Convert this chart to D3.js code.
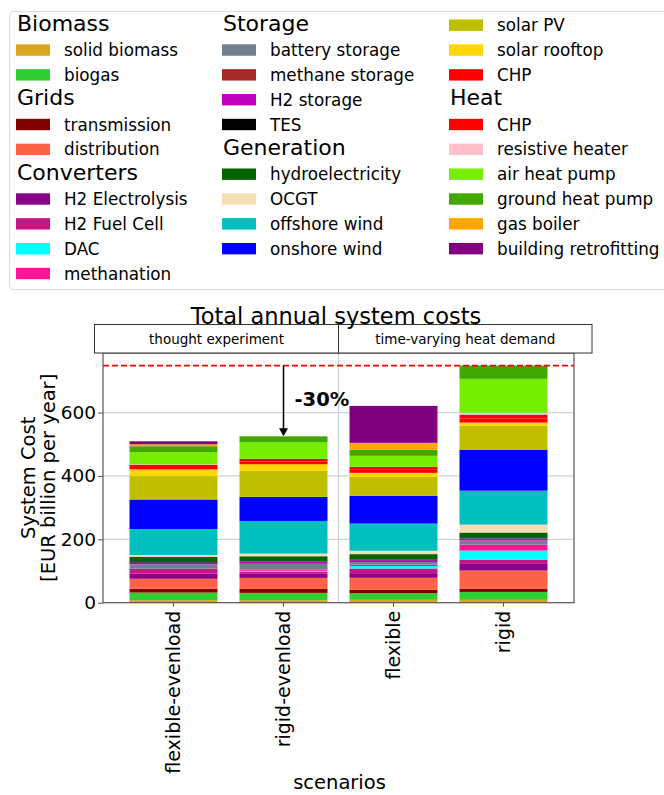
<!DOCTYPE html>
<html>
<head>
<meta charset="utf-8">
<script src="https://cdn.jsdelivr.net/npm/d3@7"></script>
<style>
  html, body { margin: 0; padding: 0; background: #fff; }
  svg { display: block; font-family: "DejaVu Sans", sans-serif; }
</style>
</head>
<body>
<svg id="chart" width="664" height="795"></svg>
<script>
// Scenarios on the x axis
const scenarios = ["flexible-evenload", "rigid-evenload", "flexible", "rigid"];
const scenarioGroups = ["thought experiment", "time-varying heat demand"];

// Cost components, stacked bottom to top
const techKeys = [
  "solid biomass", "biogas", "transmission", "distribution",
  "H2 Electrolysis", "H2 Fuel Cell", "DAC", "methanation",
  "battery storage", "methane storage", "H2 storage", "TES",
  "hydroelectricity", "OCGT", "offshore wind", "onshore wind",
  "solar PV", "solar rooftop", "CHP gen", "CHP heat",
  "resistive heater", "air heat pump", "ground heat pump", "gas boiler",
  "building retrofitting"
];
const techColors = [
  "#daa520", "#32cd32", "#800000", "#ff6347",
  "#8b008b", "#c71585", "#00ffff", "#ff1493",
  "#708090", "#a52a2a", "#bf00bf", "#000000",
  "#006400", "#f5deb3", "#00bfbf", "#0000ff",
  "#bfbf00", "#ffd700", "#ff0000", "#ff0000",
  "#ffc0cb", "#76ee00", "#40a800", "#ffa500",
  "#800080"
];

// Annual costs per component [EUR billion per year], same order as techKeys
const costsFlexibleEvenload = [8, 24, 12, 31.5, 16.5, 15.5, 0, 0, 13.7, 0, 5, 2, 17, 5.5, 82, 93, 74, 21, 7.5, 7.2, 1.5, 38, 19, 6, 9.5];
const costsRigidEvenload    = [8, 23, 12.6, 34.7, 14.5, 4, 4, 3, 19, 0, 6.3, 1, 16.5, 8.4, 103, 76, 82, 21, 8.5, 8.5, 0, 52, 19, 0, 0];
const costsFlexible         = [9, 21, 10.5, 38, 14.7, 14.7, 8, 4, 8.4, 0, 6, 2, 17, 10.5, 86, 87.4, 60, 12.6, 9.5, 9.5, 0, 34.7, 19, 22, 116.5];
const costsRigid            = [9, 25, 10.5, 57, 23, 10.5, 29.5, 19, 12.6, 0, 6.3, 0, 19, 25, 107, 129.5, 76, 9.5, 12.5, 12.5, 6, 107, 42, 0, 0];
const costsByScenario = [costsFlexibleEvenload, costsRigidEvenload, costsFlexible, costsRigid];

const yTicks = [0, 200, 400, 600];

// Legend columns: headers (null key) and entries
const legendCol1 = [["Biomass", null], ["solid biomass", "solid biomass"], ["biogas", "biogas"],
  ["Grids", null], ["transmission", "transmission"], ["distribution", "distribution"],
  ["Converters", null], ["H2 Electrolysis", "H2 Electrolysis"], ["H2 Fuel Cell", "H2 Fuel Cell"],
  ["DAC", "DAC"], ["methanation", "methanation"]];
const legendCol2 = [["Storage", null], ["battery storage", "battery storage"], ["methane storage", "methane storage"],
  ["H2 storage", "H2 storage"], ["TES", "TES"], ["Generation", null],
  ["hydroelectricity", "hydroelectricity"], ["OCGT", "OCGT"], ["offshore wind", "offshore wind"],
  ["onshore wind", "onshore wind"]];
const legendCol3 = [["solar PV", "solar PV"], ["solar rooftop", "solar rooftop"], ["CHP", "CHP gen"],
  ["Heat", null], ["CHP", "CHP heat"], ["resistive heater", "resistive heater"],
  ["air heat pump", "air heat pump"], ["ground heat pump", "ground heat pump"],
  ["gas boiler", "gas boiler"], ["building retrofitting", "building retrofitting"]];

const svg = d3.select("#chart");
const colorOf = d3.scaleOrdinal().domain(techKeys).range(techColors);

// ---------- Legend ----------
const legend = svg.append("g");
legend.append("rect")
  .attr("x", 9.5).attr("y", 11.5).attr("width", 700).attr("height", 278)
  .attr("rx", 4).attr("fill", "#fff").attr("stroke", "#dcdcdc").attr("stroke-width", 1);

const legendCols = [
  { items: legendCol1, x: 16 },
  { items: legendCol2, x: 222 },
  { items: legendCol3, x: 449 }
];
const rowY = i => 25.2 + 24.83 * i;
legendCols.forEach(col => {
  col.items.forEach((it, i) => {
    const [label, key] = it;
    if (key === null) {
      legend.append("text")
        .attr("x", col.x + 1).attr("y", rowY(i))
        .attr("dy", "0.26em")
        .attr("font-size", 22).attr("fill", "#000")
        .text(label);
    } else {
      legend.append("rect")
        .attr("x", col.x).attr("y", rowY(i) - 5.7)
        .attr("width", 34).attr("height", 11.4)
        .attr("fill", colorOf(key));
      legend.append("text")
        .attr("x", col.x + 48).attr("y", rowY(i))
        .attr("dy", "0.36em")
        .attr("font-size", 16.8).attr("fill", "#000")
        .text(label);
    }
  });
});

// ---------- Stacked bar chart ----------
const plot = { left: 103, right: 574, top: 353, bottom: 602.7 };

const rows = scenarios.map((s, si) => {
  const r = { scenario: s };
  techKeys.forEach((k, ki) => { r[k] = costsByScenario[si][ki]; });
  return r;
});
const totals = costsByScenario.map(arr => d3.sum(arr));

const x = d3.scaleBand().domain(scenarios)
  .range([plot.left, plot.right]).paddingInner(0.2).paddingOuter(0.241);
const y = d3.scaleLinear().domain([0, 788]).range([plot.bottom, plot.top]);

// grid
svg.append("g").selectAll("line").data(yTicks.filter(t => t > 0)).join("line")
  .attr("x1", plot.left).attr("x2", plot.right)
  .attr("y1", d => y(d)).attr("y2", d => y(d))
  .attr("stroke", "#d3d3d3").attr("stroke-width", 1.3);

// separator between scenario groups
const sepX = (x(scenarios[1]) + x.bandwidth() + x(scenarios[2])) / 2;
svg.append("line")
  .attr("x1", sepX).attr("x2", sepX).attr("y1", plot.top).attr("y2", plot.bottom)
  .attr("stroke", "#d3d3d3").attr("stroke-width", 1.3);

const stack = d3.stack().keys(techKeys);
const series = stack(rows);
svg.append("g").selectAll("g").data(series).join("g")
  .attr("fill", d => colorOf(d.key))
  .selectAll("rect").data(d => d).join("rect")
  .attr("x", d => x(d.data.scenario))
  .attr("width", x.bandwidth())
  .attr("y", d => y(d[1]))
  .attr("height", d => Math.max(0, y(d[0]) - y(d[1])));

// reference line at the rigid total
const refTotal = totals[3];
svg.append("line")
  .attr("x1", plot.left).attr("x2", plot.right)
  .attr("y1", y(refTotal)).attr("y2", y(refTotal))
  .attr("stroke", "#ff0000").attr("stroke-width", 1.8)
  .attr("stroke-dasharray", "6,3");

// frame
svg.append("rect")
  .attr("x", plot.left).attr("y", plot.top)
  .attr("width", plot.right - plot.left).attr("height", plot.bottom - plot.top)
  .attr("fill", "none").attr("stroke", "#555").attr("stroke-width", 1.2);

// y axis
const yAxis = svg.append("g").attr("transform", `translate(${plot.left},0)`)
  .call(d3.axisLeft(y).tickValues(yTicks).tickSize(5).tickPadding(2).tickFormat(d3.format("d")));
yAxis.select(".domain").remove();
yAxis.selectAll(".tick line").attr("stroke", "#555");
yAxis.selectAll("text").attr("font-size", 18.5).attr("fill", "#000")
  .attr("font-family", "DejaVu Sans");

// x axis
const xAxis = svg.append("g").attr("transform", `translate(0,${plot.bottom})`)
  .call(d3.axisBottom(x).tickSize(4).tickPadding(0));
xAxis.select(".domain").remove();
xAxis.selectAll(".tick line").attr("stroke", "#555");
xAxis.selectAll("text")
  .attr("font-size", 19).attr("fill", "#000").attr("font-family", "DejaVu Sans")
  .attr("transform", "rotate(-90)")
  .attr("text-anchor", "end")
  .attr("x", -8).attr("y", 0).attr("dy", "0.36em");

// axis titles
svg.append("text")
  .attr("x", plot.left + (plot.right - plot.left) / 2 + 1).attr("y", 781.5)
  .attr("dy", "0.36em").attr("text-anchor", "middle")
  .attr("font-size", 19.5).attr("fill", "#000")
  .text("scenarios");
const yl = svg.append("text")
  .attr("transform", `translate(0,${(plot.top + plot.bottom) / 2}) rotate(-90)`)
  .attr("text-anchor", "middle").attr("font-size", 19.5).attr("fill", "#000");
yl.append("tspan").attr("x", 0).attr("y", 28).attr("dy", "0.36em").text("System Cost");
yl.append("tspan").attr("x", 0).attr("y", 48).attr("dy", "0.36em").text("[EUR billion per year]");

// group header boxes
const boxTop = 324.5, boxBottom = plot.top;
const boxL = 94.5, boxR = 592;
const groupBounds = [[boxL, sepX], [sepX, boxR]];
groupBounds.forEach((b, i) => {
  svg.append("rect")
    .attr("x", b[0]).attr("y", boxTop).attr("width", b[1] - b[0]).attr("height", boxBottom - boxTop)
    .attr("fill", "#fff").attr("stroke", "#333").attr("stroke-width", 1);
  svg.append("text")
    .attr("x", (b[0] + b[1]) / 2).attr("y", (boxTop + boxBottom) / 2)
    .attr("dy", "0.36em").attr("text-anchor", "middle")
    .attr("font-size", 13.5).attr("fill", "#000")
    .text(scenarioGroups[i]);
});

// title
svg.append("text")
  .attr("x", 336).attr("y", 316).attr("dy", "0.36em")
  .attr("text-anchor", "middle").attr("font-size", 22.5).attr("fill", "#000")
  .text("Total annual system costs");

// reduction arrow from the rigid total down to the rigid-evenload total
const ax = x(scenarios[1]) + x.bandwidth() / 2;
const yFrom = y(refTotal), yTo = y(totals[1]);
svg.append("line")
  .attr("x1", ax).attr("x2", ax).attr("y1", yFrom).attr("y2", yTo - 6)
  .attr("stroke", "#000").attr("stroke-width", 1.5);
svg.append("path")
  .attr("d", `M${ax - 4.5},${yTo - 8} L${ax + 4.5},${yTo - 8} L${ax},${yTo} Z`)
  .attr("fill", "#000");
const pct = Math.round((totals[1] / refTotal - 1) * 100);
svg.append("text")
  .attr("x", ax + 11).attr("y", 399).attr("dy", "0.36em")
  .attr("font-size", 19.5).attr("font-weight", "bold").attr("fill", "#000")
  .text(`${pct}%`);
</script>
</body>
</html>
